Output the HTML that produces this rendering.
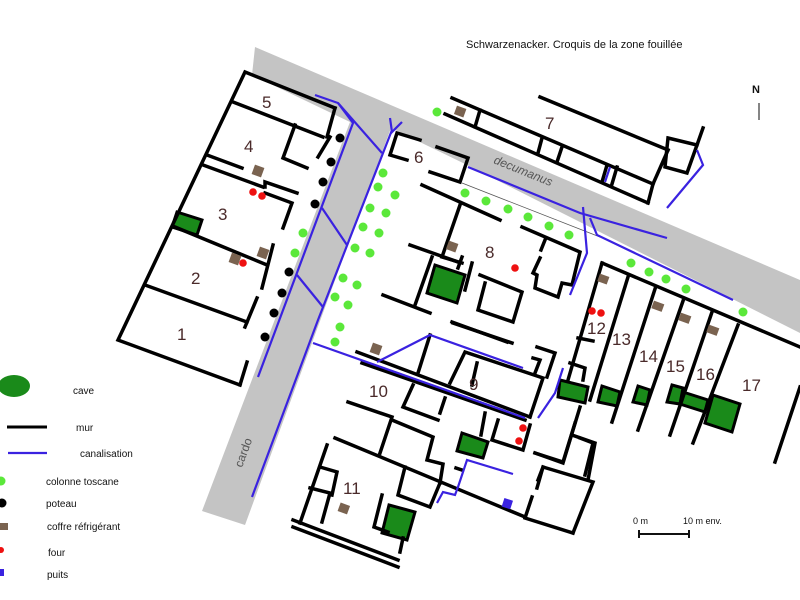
<!DOCTYPE html>
<html><head><meta charset="utf-8"><style>
html,body{margin:0;padding:0;background:#fff;}
svg{display:block;}
text{font-family:"Liberation Sans",sans-serif;}
</style></head><body>
<svg width="800" height="600" viewBox="0 0 800 600" xmlns="http://www.w3.org/2000/svg">
<!-- roads -->
<polygon points="255,47 800,280 800,333 463,163 391,128 245,525 202,511 350,122 252,75" fill="#c4c4c4"/>
<line x1="462" y1="183" x2="600" y2="237" stroke="#555" stroke-width="0.8"/>
<text x="0" y="0" font-size="12" fill="#555" transform="translate(493,163) rotate(22)" font-style="italic">decumanus</text>
<text x="0" y="0" font-size="12" fill="#555" transform="translate(242,468) rotate(-70)">cardo</text>

<!-- caves -->
<g fill="#1a8a1a" stroke="#000" stroke-width="3">
<polygon points="177,212 202,220 197,235 172,227"/>
<polygon points="435,265 465,275 457,303 427,293"/>
<polygon points="462,433 488,442 483,458 457,451"/>
<polygon points="389,505 415,512 407,540 382,533"/>
<polygon points="560,380 588,387 585,403 558,397"/>
<polygon points="602,386 620,392 617,406 598,402"/>
<polygon points="638,386 650,390 647,405 633,402"/>
<polygon points="672,385 683,388 680,404 667,402"/>
<polygon points="683,392 708,400 705,412 680,404"/>
<polygon points="713,395 740,404 732,432 705,423"/>
</g>

<!-- walls -->
<g stroke="#000" stroke-width="3.5" fill="none" stroke-linecap="square">
<polyline points="335,108 245,72 118,340 240,385"/>
<polyline points="233,102 323,137"/>
<line x1="335" y1="108" x2="327" y2="137"/>
<polyline points="295,125 283,158 307,168"/>
<line x1="330" y1="137" x2="318" y2="157"/>
<line x1="207" y1="155" x2="242" y2="168"/>
<line x1="203" y1="165" x2="263" y2="187"/>
<polyline points="265,187 265,182 297,193"/>
<polyline points="265,193 292,203 283,228"/>
<line x1="175" y1="227" x2="267" y2="265"/>
<line x1="273" y1="245" x2="262" y2="288"/>
<line x1="145" y1="285" x2="247" y2="322"/>
<line x1="257" y1="298" x2="245" y2="327"/>
<line x1="240" y1="385" x2="247" y2="362"/>
<!-- room 6 -->
<polyline points="420,140 397,133 390,155 407,160"/>
<polyline points="437,147 468,158 460,182 430,172"/>
<line x1="422" y1="185" x2="500" y2="220"/>
<!-- room 7 -->
<line x1="452" y1="98" x2="653" y2="184"/>
<line x1="445" y1="114" x2="648" y2="203"/>
<line x1="540" y1="97" x2="668" y2="150"/>
<line x1="653" y1="184" x2="648" y2="203"/>
<polygon points="668,138 697,145 687,173 665,167"/>
<line x1="703" y1="128" x2="697" y2="145"/>
<line x1="668" y1="150" x2="653" y2="184"/>
<line x1="480" y1="110" x2="475" y2="127"/>
<line x1="542" y1="138" x2="538" y2="153"/>
<line x1="562" y1="147" x2="557" y2="162"/>
<line x1="607" y1="165" x2="602" y2="182"/>
<line x1="617" y1="167" x2="612" y2="184"/>
<!-- room 8 -->
<polyline points="460,205 442,257 462,263"/>
<line x1="410" y1="245" x2="458" y2="262"/>
<line x1="432" y1="257" x2="415" y2="305"/>
<line x1="383" y1="295" x2="430" y2="313"/>
<line x1="462" y1="257" x2="458" y2="268"/>
<line x1="472" y1="263" x2="465" y2="290"/>
<polyline points="480,275 522,292 513,322 478,310 485,283"/>
<polyline points="522,227 580,252 572,285 562,283 558,297 535,288 537,275 533,273 540,258"/>
<line x1="545" y1="240" x2="541" y2="250"/>
<line x1="452" y1="322" x2="507" y2="342"/>
<!-- 12-17 -->
<line x1="602" y1="263" x2="800" y2="347"/>
<line x1="602" y1="263" x2="568" y2="380"/>
<polyline points="580,407 563,463 535,453"/>
<line x1="628" y1="277" x2="590" y2="400"/>
<line x1="655" y1="289" x2="612" y2="422"/>
<line x1="683" y1="301" x2="638" y2="430"/>
<line x1="712" y1="312" x2="670" y2="435"/>
<line x1="738" y1="325" x2="693" y2="443"/>
<line x1="800" y1="387" x2="775" y2="462"/>
<line x1="578" y1="338" x2="593" y2="341"/>
<polyline points="570,363 585,368 583,380"/>
<polyline points="572,435 595,443 588,480"/>
<line x1="543" y1="467" x2="538" y2="480"/>
<!-- 9 / 10 -->
<line x1="357" y1="352" x2="530" y2="417"/>
<line x1="362" y1="363" x2="525" y2="420"/>
<line x1="453" y1="323" x2="512" y2="343"/>
<line x1="430" y1="335" x2="418" y2="373"/>
<polyline points="450,383 465,352 543,378 530,417"/>
<line x1="477" y1="363" x2="472" y2="385"/>
<polyline points="537,347 555,353 547,377"/>
<polyline points="533,358 540,360 535,373"/>
<polyline points="413,385 403,407 438,420"/>
<line x1="445" y1="398" x2="440" y2="413"/>
<polyline points="348,402 392,417 380,453"/>
<polyline points="392,420 433,437 427,460 443,464 440,483"/>
<line x1="335" y1="438" x2="525" y2="517"/>
<polyline points="405,467 398,495 430,507 440,483"/>
<polyline points="327,445 300,523"/>
<polyline points="320,467 337,472 332,495"/>
<polyline points="310,488 330,493 322,522"/>
<line x1="293" y1="520" x2="398" y2="560"/>
<line x1="293" y1="527" x2="398" y2="567"/>
<polyline points="382,495 374,527 388,532"/>
<line x1="403" y1="538" x2="400" y2="552"/>
<line x1="485" y1="413" x2="481" y2="435"/>
<polyline points="498,420 492,440 523,450 530,425"/>
<line x1="456" y1="468" x2="462" y2="470"/>
<line x1="525" y1="518" x2="573" y2="533"/>
<polyline points="573,533 593,482 543,467 537,488"/>
<line x1="532" y1="497" x2="526" y2="515"/>
<polyline points="535,453 563,462 575,423"/>
<polyline points="580,438 593,443 585,475"/>
</g>

<!-- canalisation -->
<g stroke="#3a22e0" stroke-width="2.2" fill="none">
<polyline points="315,95 338,103 353,123 258,377"/>
<line x1="338" y1="103" x2="382" y2="153"/>
<polyline points="390,118 392,132 402,122"/>
<polyline points="392,130 318,320 252,497"/>
<line x1="322" y1="208" x2="347" y2="245"/>
<line x1="297" y1="275" x2="323" y2="307"/>
<line x1="313" y1="343" x2="525" y2="418"/>
<polyline points="377,362 430,335 523,368"/>
<polyline points="468,167 580,213 667,238"/>
<polyline points="583,207 587,253 570,295"/>
<polyline points="590,218 597,235 733,300"/>
<polyline points="697,150 703,165 667,208"/>
<line x1="610" y1="167" x2="605" y2="182"/>
<polyline points="563,368 555,393 538,418"/>
<polyline points="513,474 467,460 458,487 455,495 443,492 437,503"/>
<line x1="8" y1="453" x2="47" y2="453"/>
</g>
<rect x="503" y="499" width="9" height="9" fill="#3a22e0" transform="rotate(18 507 503)"/>

<!-- poteaux -->
<g fill="#000">
<circle cx="340" cy="138" r="4.5"/><circle cx="331" cy="162" r="4.5"/><circle cx="323" cy="182" r="4.5"/><circle cx="315" cy="204" r="4.5"/>
<circle cx="289" cy="272" r="4.5"/><circle cx="282" cy="293" r="4.5"/><circle cx="274" cy="313" r="4.5"/><circle cx="265" cy="337" r="4.5"/>
<circle cx="2" cy="503" r="4.5"/>
</g>
<!-- colonnes -->
<g fill="#5be83a">
<circle cx="303" cy="233" r="4.5"/><circle cx="295" cy="253" r="4.5"/>
<circle cx="383" cy="173" r="4.5"/><circle cx="378" cy="187" r="4.5"/><circle cx="395" cy="195" r="4.5"/><circle cx="370" cy="208" r="4.5"/><circle cx="386" cy="213" r="4.5"/><circle cx="363" cy="227" r="4.5"/><circle cx="379" cy="233" r="4.5"/><circle cx="355" cy="248" r="4.5"/><circle cx="370" cy="253" r="4.5"/><circle cx="343" cy="278" r="4.5"/><circle cx="357" cy="285" r="4.5"/><circle cx="335" cy="297" r="4.5"/><circle cx="348" cy="305" r="4.5"/><circle cx="340" cy="327" r="4.5"/><circle cx="335" cy="342" r="4.5"/>
<circle cx="437" cy="112" r="4.5"/><circle cx="465" cy="193" r="4.5"/><circle cx="486" cy="201" r="4.5"/><circle cx="508" cy="209" r="4.5"/><circle cx="528" cy="217" r="4.5"/><circle cx="549" cy="226" r="4.5"/><circle cx="569" cy="235" r="4.5"/>
<circle cx="631" cy="263" r="4.5"/><circle cx="649" cy="272" r="4.5"/><circle cx="666" cy="279" r="4.5"/><circle cx="686" cy="289" r="4.5"/><circle cx="743" cy="312" r="4.5"/>
<circle cx="1" cy="481" r="4.5"/>
</g>
<!-- coffres -->
<g fill="#7a6350">
<rect x="253" y="166" width="10" height="10" transform="rotate(20 258 171)"/>
<rect x="258" y="248" width="10" height="10" transform="rotate(20 263 253)"/>
<rect x="230" y="254" width="10" height="10" transform="rotate(20 235 259)"/>
<rect x="455" y="107" width="10" height="9" transform="rotate(20 460 112)"/>
<rect x="447" y="242" width="10" height="9" transform="rotate(20 452 247)"/>
<rect x="371" y="344" width="10" height="10" transform="rotate(20 376 349)"/>
<rect x="598" y="275" width="10" height="8" transform="rotate(20 603 280)"/>
<rect x="652" y="302" width="11" height="8" transform="rotate(20 657 307)"/>
<rect x="679" y="314" width="11" height="8" transform="rotate(20 684 319)"/>
<rect x="707" y="326" width="11" height="8" transform="rotate(20 712 331)"/>
<rect x="339" y="504" width="10" height="9" transform="rotate(20 344 508)"/>
<rect x="0" y="523" width="8" height="7"/>
</g>
<!-- fours -->
<g fill="#ee1111">
<circle cx="253" cy="192" r="3.8"/><circle cx="262" cy="196" r="3.8"/><circle cx="243" cy="263" r="3.8"/>
<circle cx="515" cy="268" r="3.8"/><circle cx="592" cy="311" r="3.8"/><circle cx="601" cy="313" r="3.8"/>
<circle cx="523" cy="428" r="3.8"/><circle cx="519" cy="441" r="3.8"/>
<circle cx="1" cy="550" r="3"/>
</g>
<rect x="0" y="569" width="4" height="7" fill="#3a22e0"/>

<!-- room labels -->
<g font-size="17" fill="#4a2a2a">
<text x="262" y="108">5</text><text x="244" y="152">4</text><text x="218" y="220">3</text><text x="191" y="284">2</text><text x="177" y="340">1</text>
<text x="414" y="163">6</text><text x="545" y="129">7</text><text x="485" y="258">8</text><text x="469" y="390">9</text>
<text x="369" y="397">10</text><text x="343" y="494">11</text>
<text x="587" y="334">12</text><text x="612" y="345">13</text><text x="639" y="362">14</text><text x="666" y="372">15</text><text x="696" y="380">16</text><text x="742" y="391">17</text>
</g>

<!-- title / north / scale -->
<text x="466" y="48" font-size="11" fill="#111">Schwarzenacker. Croquis de la zone fouillée</text>
<text x="752" y="93" font-size="11" font-weight="bold" fill="#111">N</text>
<line x1="759" y1="103" x2="759" y2="120" stroke="#333" stroke-width="1.2"/>
<text x="633" y="524" font-size="9" fill="#111">0 m</text>
<text x="683" y="524" font-size="9" fill="#111">10 m env.</text>
<g stroke="#111" stroke-width="2"><line x1="639" y1="534" x2="689" y2="534"/><line x1="639" y1="530" x2="639" y2="538"/><line x1="689" y1="530" x2="689" y2="538"/></g>

<!-- legend -->
<ellipse cx="14" cy="386" rx="16" ry="11" fill="#1a8a1a"/>
<line x1="7" y1="427" x2="47" y2="427" stroke="#000" stroke-width="3"/>
<g font-size="10" fill="#111">
<text x="73" y="394">cave</text>
<text x="76" y="431">mur</text>
<text x="80" y="457">canalisation</text>
<text x="46" y="485">colonne toscane</text>
<text x="46" y="507">poteau</text>
<text x="47" y="530">coffre réfrigérant</text>
<text x="48" y="556">four</text>
<text x="47" y="578">puits</text>
</g>
</svg>
</body></html>
